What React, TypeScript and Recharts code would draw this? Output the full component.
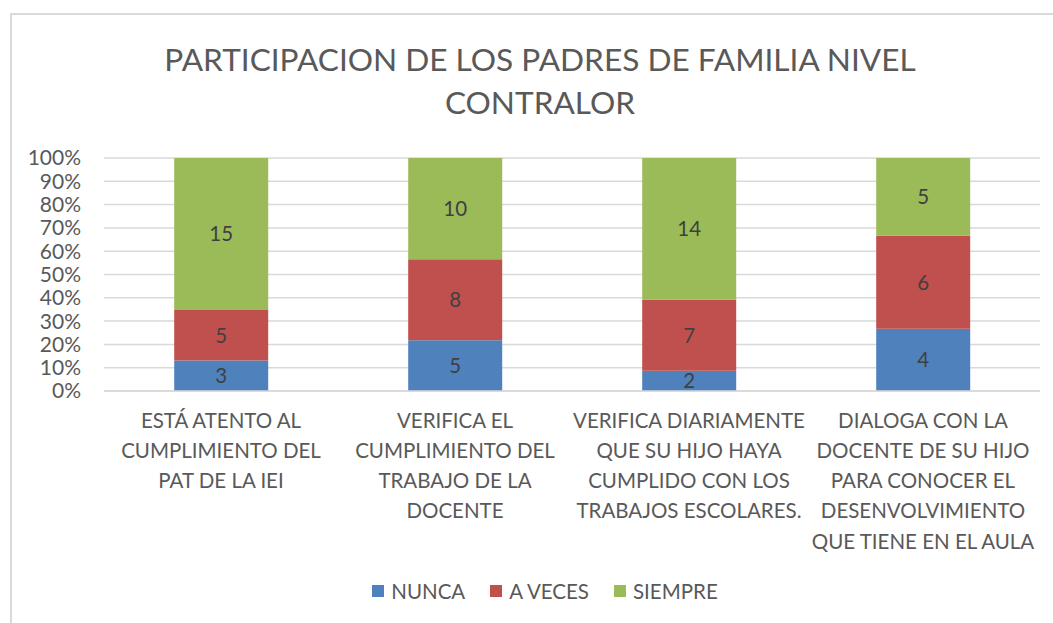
import { BarChart, Bar, XAxis, YAxis, CartesianGrid, LabelList } from 'recharts';

const categories = [
  ['ESTÁ ATENTO AL', 'CUMPLIMIENTO DEL', 'PAT DE LA IEI'],
  ['VERIFICA EL', 'CUMPLIMIENTO DEL', 'TRABAJO DE LA', 'DOCENTE'],
  ['VERIFICA DIARIAMENTE', 'QUE SU HIJO HAYA', 'CUMPLIDO CON LOS', 'TRABAJOS ESCOLARES.'],
  ['DIALOGA CON LA', 'DOCENTE DE SU HIJO', 'PARA CONOCER EL', 'DESENVOLVIMIENTO', 'QUE TIENE EN EL AULA'],
];
const nunca = [3, 5, 2, 4];
const aVeces = [5, 8, 7, 6];
const siempre = [15, 10, 14, 5];
const yTicks = [0, 0.1, 0.2, 0.3, 0.4, 0.5, 0.6, 0.7, 0.8, 0.9, 1];

const series = [
  { key: 'nunca', name: 'NUNCA', color: '#4F81BD' },
  { key: 'aVeces', name: 'A VECES', color: '#C0504D' },
  { key: 'siempre', name: 'SIEMPRE', color: '#9BBB59' },
];

const data = categories.map((lines, i) => ({
  name: lines.join(' '),
  nunca: nunca[i],
  aVeces: aVeces[i],
  siempre: siempre[i],
}));

const FONT = 'Lato, "Open Sans", sans-serif';
const TEXT = '#595959';

function CategoryTick({ x, y, index }: any) {
  const lines = categories[index] || [];
  return (
    <text x={x} y={y} textAnchor="middle" fill={TEXT} fontSize={20.5} fontFamily={FONT}>
      {lines.map((l, i) => (
        <tspan key={i} x={x} dy={i === 0 ? 28.5 : 30.3}>
          {l}
        </tspan>
      ))}
    </text>
  );
}

export default function App() {
  return (
    <div style={{ position: 'absolute', left: 0, top: 0, width: 1053, height: 623, background: '#fff', fontFamily: FONT }}>
      <div
        style={{
          position: 'absolute',
          left: 10,
          top: 13,
          width: 1043,
          height: 610,
          borderLeft: '2px solid #d9d9d9',
          borderTop: '2px solid #d9d9d9',
        }}
      />
      <div
        style={{
          position: 'absolute',
          left: 40,
          width: 1000,
          top: 38,
          textAlign: 'center',
          color: TEXT,
          fontSize: 31.6,
          lineHeight: '43px',
        }}
      >
        PARTICIPACION DE LOS PADRES DE FAMILIA NIVEL
        <br />
        CONTRALOR
      </div>
      <div style={{ position: 'absolute', left: 0, top: 0 }}>
        <BarChart
          width={1053}
          height={623}
          data={data}
          stackOffset="expand"
          barCategoryGap="30%"
          margin={{ top: 158, right: 13, bottom: 62, left: 24 }}
        >
          <CartesianGrid vertical={false} stroke="#d9d9d9" strokeWidth={1.5} />
          <XAxis
            dataKey="name"
            interval={0}
            height={170}
            tick={<CategoryTick />}
            tickLine={false}
            axisLine={{ stroke: '#d9d9d9', strokeWidth: 1.5 }}
          />
          <YAxis
            width={80}
            domain={[0, 1]}
            ticks={yTicks}
            interval={0}
            tickFormatter={(v: number) => `${Math.round(v * 100)}%`}
            tick={{ fill: TEXT, fontSize: 21, fontFamily: FONT }}
            tickLine={false}
            tickSize={0}
            tickMargin={23}
            axisLine={false}
          />
          {series.map((s) => (
            <Bar key={s.key} dataKey={s.key} name={s.name} stackId="a" fill={s.color} isAnimationActive={false}>
              <LabelList dataKey={s.key} position="center" fill="#404040" fontSize={20.5} fontFamily={FONT} />
            </Bar>
          ))}
        </BarChart>
      </div>
      <div
        style={{
          position: 'absolute',
          left: 0,
          width: 1090,
          top: 579,
          display: 'flex',
          justifyContent: 'center',
          gap: 25,
          color: TEXT,
          fontSize: 20.5,
        }}
      >
        {series.map((s) => (
          <div key={s.key} style={{ display: 'flex', alignItems: 'center' }}>
            <span style={{ display: 'inline-block', width: 12, height: 12, background: s.color, marginRight: 7 }} />
            <span>{s.name}</span>
          </div>
        ))}
      </div>
    </div>
  );
}
